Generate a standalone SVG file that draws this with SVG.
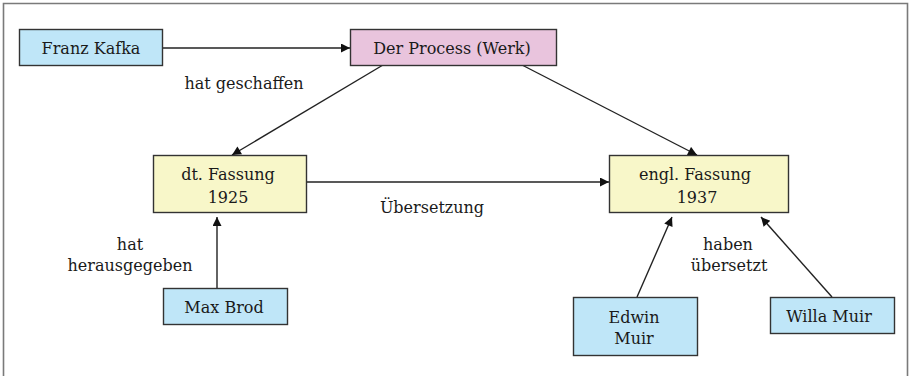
<svg xmlns="http://www.w3.org/2000/svg" width="911" height="376" viewBox="0 0 911 376">
  <defs>
    <marker id="arrow" viewBox="0 0 10 10" refX="10" refY="5" markerWidth="11" markerHeight="9" markerUnits="userSpaceOnUse" orient="auto">
      <path d="M0,0 L10,5 L0,10 z" fill="#111"/>
    </marker>
    <style>
      .box { stroke: #333; stroke-width: 1.4; }
      .person { fill: #bfe6f8; }
      .work { fill: #e9c4dd; }
      .version { fill: #f8f7c9; }
      text { font-family: "DejaVu Serif", "Liberation Serif", serif; font-size: 16px; fill: #1a1a1a; text-anchor: middle; }
      .edge { stroke: #222; stroke-width: 1.4; fill: none; marker-end: url(#arrow); }
    </style>
  </defs>

  <rect width="911" height="376" fill="#fff"/>
  <!-- outer frame, open at the bottom -->
  <path d="M3.5,380 V3.5 H907.5 V380" fill="none" stroke="#7a7a7a" stroke-width="1.6"/>

  <g id="connectors">
    <line class="edge" x1="163" y1="48" x2="350" y2="48"/>
    <line class="edge" x1="383" y1="65" x2="232" y2="155"/>
    <line class="edge" x1="522" y1="65" x2="697" y2="155"/>
    <line class="edge" x1="306" y1="182" x2="609" y2="182"/>
    <line class="edge" x1="217" y1="288" x2="217" y2="217"/>
    <line class="edge" x1="637" y1="297" x2="672" y2="217"/>
    <line class="edge" x1="832" y1="297" x2="761" y2="217"/>
  </g>

  <g id="labels">
    <text x="244" y="89">hat geschaffen</text>
    <text x="432" y="213">Übersetzung</text>
    <text x="130" y="250">hat</text>
    <text x="130" y="271">herausgegeben</text>
    <text x="728" y="250">haben</text>
    <text x="729" y="271">übersetzt</text>
  </g>

  <g id="franz-kafka">
    <rect class="box person" x="19.5" y="29.5" width="143" height="36"/>
    <text x="91" y="54">Franz Kafka</text>
  </g>

  <g id="der-process">
    <rect class="box work" x="350.5" y="29.5" width="206" height="36"/>
    <text x="452" y="54">Der Process (Werk)</text>
  </g>

  <g id="dt-fassung">
    <rect class="box version" x="153.5" y="155.5" width="153" height="57"/>
    <text x="228" y="180">dt. Fassung</text>
    <text x="228" y="203">1925</text>
  </g>

  <g id="engl-fassung">
    <rect class="box version" x="609.5" y="155.5" width="179" height="57"/>
    <text x="695" y="180">engl. Fassung</text>
    <text x="697" y="203">1937</text>
  </g>

  <g id="max-brod">
    <rect class="box person" x="163.5" y="288.5" width="124" height="36"/>
    <text x="224" y="313">Max Brod</text>
  </g>

  <g id="edwin-muir">
    <rect class="box person" x="573.5" y="297.5" width="124" height="58"/>
    <text x="634" y="323">Edwin</text>
    <text x="634" y="344">Muir</text>
  </g>

  <g id="willa-muir">
    <rect class="box person" x="770.5" y="297.5" width="124" height="36"/>
    <text x="829" y="322">Willa Muir</text>
  </g>
</svg>
